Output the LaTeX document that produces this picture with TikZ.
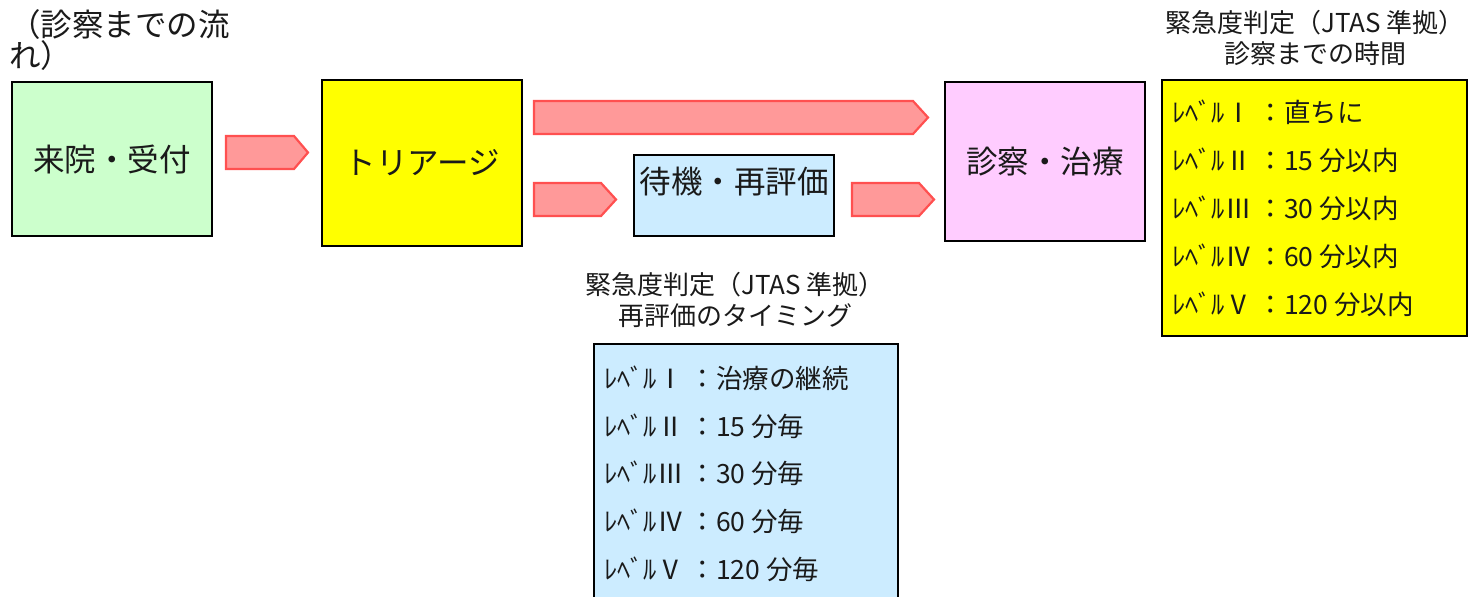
\documentclass[tikz,border=0pt]{standalone}
\usepackage{fontspec}
\setmainfont{Noto Sans CJK JP}
\definecolor{boxgreen}{HTML}{CCFFCC}
\definecolor{boxyellow}{HTML}{FFFF00}
\definecolor{boxblue}{HTML}{CCECFF}
\definecolor{boxpink}{HTML}{FFCCFF}
\definecolor{arrowfill}{HTML}{FF9999}
\definecolor{arrowline}{HTML}{FF5050}
\definecolor{textcol}{HTML}{1A1A1A}
\begin{document}
\begin{tikzpicture}[x=1pt,y=-1pt,
  box/.style={draw=black, line width=1.1pt, inner sep=0pt, text=textcol},
  bigtxt/.style={font=\fontsize{31.5}{31}\selectfont, text=textcol, inner sep=0pt},
  midtxt/.style={font=\fontsize{26}{31.5}\selectfont, text=textcol, inner sep=0pt, align=center},
  listtxt/.style={font=\fontsize{26.5}{30}\selectfont, text=textcol, inner sep=0pt, anchor=west},
  blockarrow/.style={fill=arrowfill, draw=arrowline, line width=2.2pt, line join=miter}]
\useasboundingbox (0,0) rectangle (1473,597);
\fill[white] (0,0) rectangle (1473,597);

% title
\node[bigtxt, anchor=north west, align=left] (title) at (9,9) {（診察までの流\\れ）};

% main boxes
\node[box, fill=boxgreen, minimum width=200pt, minimum height=154pt, font=\fontsize{31.5}{31}\selectfont] (reception) at (112,159) {来院・受付};
\node[box, fill=boxyellow, minimum width=200pt, minimum height=166pt, font=\fontsize{31.5}{31}\selectfont] (triage) at (422,163) {トリアージ};
\node[box, fill=boxblue, minimum width=200pt, minimum height=81pt] (wait) at (734,195.5) {};
\node[bigtxt] (waittext) at (734,182) {待機・再評価};
\node[box, fill=boxpink, minimum width=200pt, minimum height=159pt, font=\fontsize{31.5}{31}\selectfont] (exam) at (1045,161.5) {診察・治療};

% block arrows
\draw[blockarrow] (226,136) -- (294,136) -- (308,152.5) -- (294,169) -- (226,169) -- cycle;
\draw[blockarrow] (534,101) -- (913,101) -- (928,117.5) -- (913,134) -- (534,134) -- cycle;
\draw[blockarrow] (534,183) -- (601,183) -- (616,199.5) -- (601,216) -- (534,216) -- cycle;
\draw[blockarrow] (852,183) -- (919,183) -- (934,199.5) -- (919,216) -- (852,216) -- cycle;

% right panel
\node[midtxt] (righttitle) at (1315,38) {緊急度判定（JTAS 準拠）\\診察までの時間};
\node[box, fill=boxyellow, minimum width=305pt, minimum height=256pt] (rightbox) at (1314.5,208) {};
\node[listtxt] (r1) at (1172,112) {ﾚﾍﾞﾙⅠ ：直ちに};
\node[listtxt] (r2) at (1172,160) {ﾚﾍﾞﾙⅡ ：15 分以内};
\node[listtxt] (r3) at (1172,208) {ﾚﾍﾞﾙⅢ ：30 分以内};
\node[listtxt] (r4) at (1172,256) {ﾚﾍﾞﾙⅣ ：60 分以内};
\node[listtxt] (r5) at (1172,304) {ﾚﾍﾞﾙⅤ ：120 分以内};

% middle panel
\node[midtxt] (midtitle) at (735,300) {緊急度判定（JTAS 準拠）\\再評価のタイミング};
\node[box, fill=boxblue, minimum width=304pt, minimum height=270pt] (midbox) at (746,479) {};
\node[listtxt] (m1) at (604,378) {ﾚﾍﾞﾙⅠ ：治療の継続};
\node[listtxt] (m2) at (604,426) {ﾚﾍﾞﾙⅡ ：15 分毎};
\node[listtxt] (m3) at (604,473) {ﾚﾍﾞﾙⅢ ：30 分毎};
\node[listtxt] (m4) at (604,521) {ﾚﾍﾞﾙⅣ ：60 分毎};
\node[listtxt] (m5) at (604,569) {ﾚﾍﾞﾙⅤ ：120 分毎};
\end{tikzpicture}
\end{document}
